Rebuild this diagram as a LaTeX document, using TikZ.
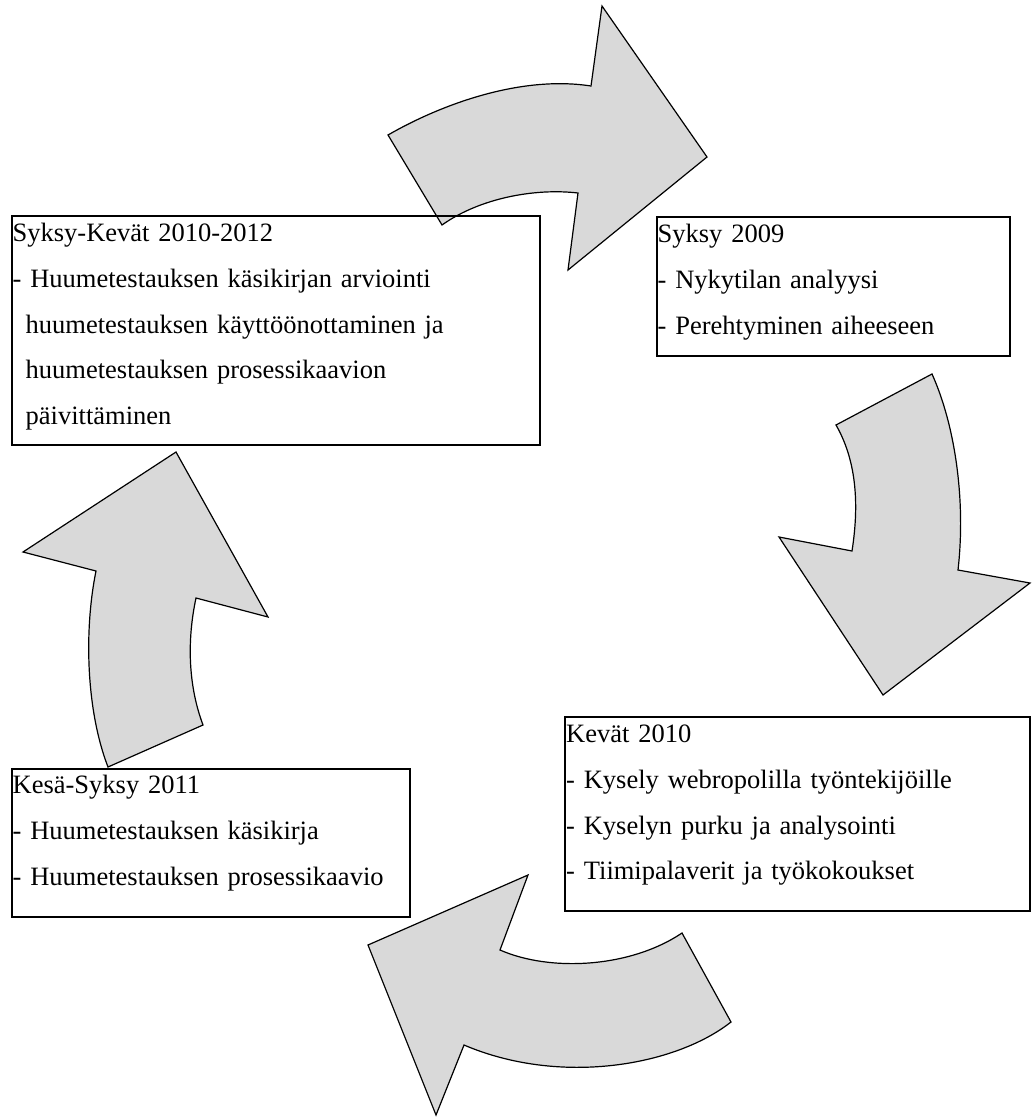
\documentclass[tikz,border=0pt]{standalone}
\usepackage{fontspec}
\setmainfont{Liberation Serif}
\usepackage{tikz}

\begin{document}
\begin{tikzpicture}[x=1pt, y=-1pt,
  nuoli/.style={draw=black, fill=gray!30, line width=1.2pt},
  laatikko/.style={draw=black, line width=1.3pt, inner sep=0pt, outer sep=0pt, anchor=north west},
  teksti/.style={anchor=base west, inner sep=0pt, align=left, font=\fontsize{26.5}{45.8}\selectfont}]
\useasboundingbox (0,0) rectangle (1033,1117);
% nuolet
\draw [nuoli] (388,135) .. controls (440,105) and (520,75) .. (591,86) -- (602,6) -- (707,157) -- (568,270) -- (578,193) .. controls (535,188) and (480,198) .. (442,225) -- cycle;
\draw [nuoli] (836,425) -- (932,374) .. controls (955,425) and (966,500) .. (958,570) -- (1030,583) -- (883,695) -- (779,537) -- (852,551) .. controls (860,500) and (855,458) .. (836,425) -- cycle;
\draw [nuoli] (682,933) -- (731,1022) .. controls (675,1066) and (560,1086) .. (464,1045) -- (436,1115) -- (368,945) -- (528,875) -- (500,950) .. controls (550,972) and (630,968) .. (682,933) -- cycle;
\draw [nuoli] (108,767) -- (203,725) .. controls (188,685) and (187,640) .. (196,598) -- (268,617) -- (176,452) -- (23,552) -- (96,571) .. controls (84,630) and (86,710) .. (108,767) -- cycle;
% laatikot
\node [laatikko, minimum width=528pt, minimum height=229pt] (syksykevat) at (12,216) {};
\node [teksti, text width=520pt] (syksykevatteksti) at ([xshift=0.5pt, yshift=-25.5pt]syksykevat.north west) {Syksy-Kevät 2010-2012\\- Huumetestauksen käsikirjan arviointi\\\hspace*{13pt}huumetestauksen käyttöönottaminen ja\\\hspace*{13pt}huumetestauksen prosessikaavion\\\hspace*{13pt}päivittäminen};
\node [laatikko, minimum width=353pt, minimum height=139pt] (syksy) at (657,217) {};
\node [teksti, text width=345pt] (syksyteksti) at ([xshift=0.5pt, yshift=-25.5pt]syksy.north west) {Syksy 2009\\- Nykytilan analyysi\\- Perehtyminen aiheeseen};
\node [laatikko, minimum width=465pt, minimum height=194pt] (kevat) at (565,717) {};
\node [teksti, text width=455pt] (kevatteksti) at ([xshift=1pt, yshift=-25.5pt]kevat.north west) {Kevät 2010\\- Kysely webropolilla työntekijöille\\- Kyselyn purku ja analysointi\\- Tiimipalaverit ja työkokoukset};
\node [laatikko, minimum width=398pt, minimum height=148pt] (kesasyksy) at (12,769) {};
\node [teksti, text width=390pt] (kesasyksyteksti) at ([xshift=0.5pt, yshift=-24.5pt]kesasyksy.north west) {Kesä-Syksy 2011\\- Huumetestauksen käsikirja\\- Huumetestauksen prosessikaavio};
\end{tikzpicture}
\end{document}
